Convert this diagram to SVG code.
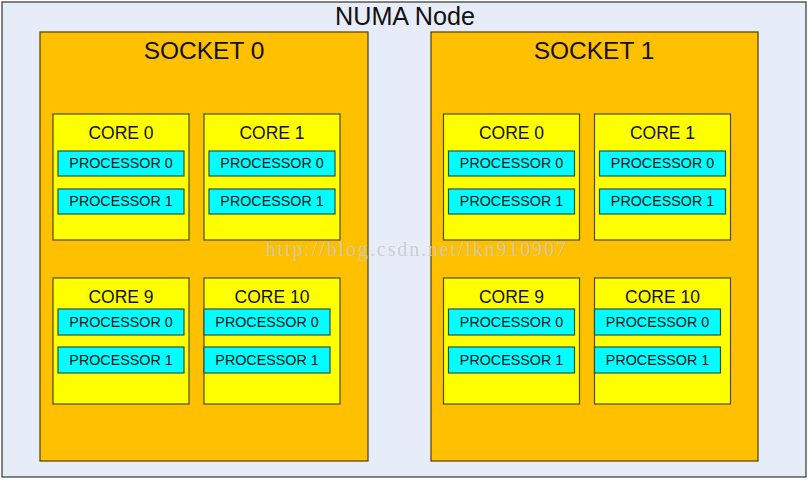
<svg xmlns="http://www.w3.org/2000/svg" width="812" height="481" viewBox="0 0 812 481">
<style>
.numa{fill:#E7EDF8;stroke:#333;stroke-width:1.2}
.sock{fill:#FFC000;stroke:#4A3F10;stroke-width:1.2}
.core{fill:#FFFF00;stroke:#4A4A20;stroke-width:1.2}
.proc{fill:#00FFFF;stroke:#2F4F4F;stroke-width:1.2}
text{font-family:"Liberation Sans",Arial,sans-serif;fill:#111;text-anchor:middle}
.t1{font-size:25.2px}
.t2{font-size:24.5px}
.t3{font-size:17.5px}
.t4{font-size:14.3px}
.wm{font-family:"Liberation Serif","DejaVu Serif",serif;font-size:20px;fill:#C8C8C8;fill-opacity:0.85;text-anchor:start}
</style>
<g id="numa-node">
<rect class="numa" x="2" y="2" width="804" height="475"/>
<text class="t1" x="405" y="25">NUMA Node</text>
</g>
<g id="socket0">
<rect class="sock" x="40" y="32" width="328" height="429"/>
<text class="t2" x="204" y="58.5">SOCKET 0</text>
</g>
<g id="socket1">
<rect class="sock" x="431" y="32" width="327" height="429"/>
<text class="t2" x="594" y="58.5">SOCKET 1</text>
</g>
<g id="s0-core0">
<rect class="core" x="53" y="114" width="136" height="126"/>
<text class="t3" x="121" y="139">CORE 0</text>
<rect class="proc" x="58" y="151" width="126" height="25"/>
<text class="t4" x="121" y="168">PROCESSOR 0</text>
<rect class="proc" x="58" y="189" width="126" height="25"/>
<text class="t4" x="121" y="206">PROCESSOR 1</text>
</g>
<g id="s0-core1">
<rect class="core" x="204" y="114" width="136" height="126"/>
<text class="t3" x="272" y="139">CORE 1</text>
<rect class="proc" x="209" y="151" width="126" height="25"/>
<text class="t4" x="272" y="168">PROCESSOR 0</text>
<rect class="proc" x="209" y="189" width="126" height="25"/>
<text class="t4" x="272" y="206">PROCESSOR 1</text>
</g>
<g id="s0-core9">
<rect class="core" x="53" y="278" width="136" height="126"/>
<text class="t3" x="121" y="303">CORE 9</text>
<rect class="proc" x="58" y="309" width="126" height="26"/>
<text class="t4" x="121" y="326.5">PROCESSOR 0</text>
<rect class="proc" x="58" y="347" width="126" height="26"/>
<text class="t4" x="121" y="364.5">PROCESSOR 1</text>
</g>
<g id="s0-core10">
<rect class="core" x="204" y="278" width="136" height="126"/>
<text class="t3" x="272" y="303">CORE 10</text>
<rect class="proc" x="204" y="309" width="126" height="26"/>
<text class="t4" x="267" y="326.5">PROCESSOR 0</text>
<rect class="proc" x="204" y="347" width="126" height="26"/>
<text class="t4" x="267" y="364.5">PROCESSOR 1</text>
</g>
<g id="s1-core0">
<rect class="core" x="443.5" y="114" width="136" height="126"/>
<text class="t3" x="511.5" y="139">CORE 0</text>
<rect class="proc" x="448.5" y="151" width="126" height="25"/>
<text class="t4" x="511.5" y="168">PROCESSOR 0</text>
<rect class="proc" x="448.5" y="189" width="126" height="25"/>
<text class="t4" x="511.5" y="206">PROCESSOR 1</text>
</g>
<g id="s1-core1">
<rect class="core" x="594.5" y="114" width="136" height="126"/>
<text class="t3" x="662.5" y="139">CORE 1</text>
<rect class="proc" x="599.5" y="151" width="126" height="25"/>
<text class="t4" x="662.5" y="168">PROCESSOR 0</text>
<rect class="proc" x="599.5" y="189" width="126" height="25"/>
<text class="t4" x="662.5" y="206">PROCESSOR 1</text>
</g>
<g id="s1-core9">
<rect class="core" x="443.5" y="278" width="136" height="126"/>
<text class="t3" x="511.5" y="303">CORE 9</text>
<rect class="proc" x="448.5" y="309" width="126" height="26"/>
<text class="t4" x="511.5" y="326.5">PROCESSOR 0</text>
<rect class="proc" x="448.5" y="347" width="126" height="26"/>
<text class="t4" x="511.5" y="364.5">PROCESSOR 1</text>
</g>
<g id="s1-core10">
<rect class="core" x="594.5" y="278" width="136" height="126"/>
<text class="t3" x="662.5" y="303">CORE 10</text>
<rect class="proc" x="594.5" y="309" width="126" height="26"/>
<text class="t4" x="657.5" y="326.5">PROCESSOR 0</text>
<rect class="proc" x="594.5" y="347" width="126" height="26"/>
<text class="t4" x="657.5" y="364.5">PROCESSOR 1</text>
</g>
<g id="connectors"></g>
<text class="wm" x="266" y="256" textLength="300" lengthAdjust="spacing">http://blog.csdn.net/lkn910907</text>
</svg>
